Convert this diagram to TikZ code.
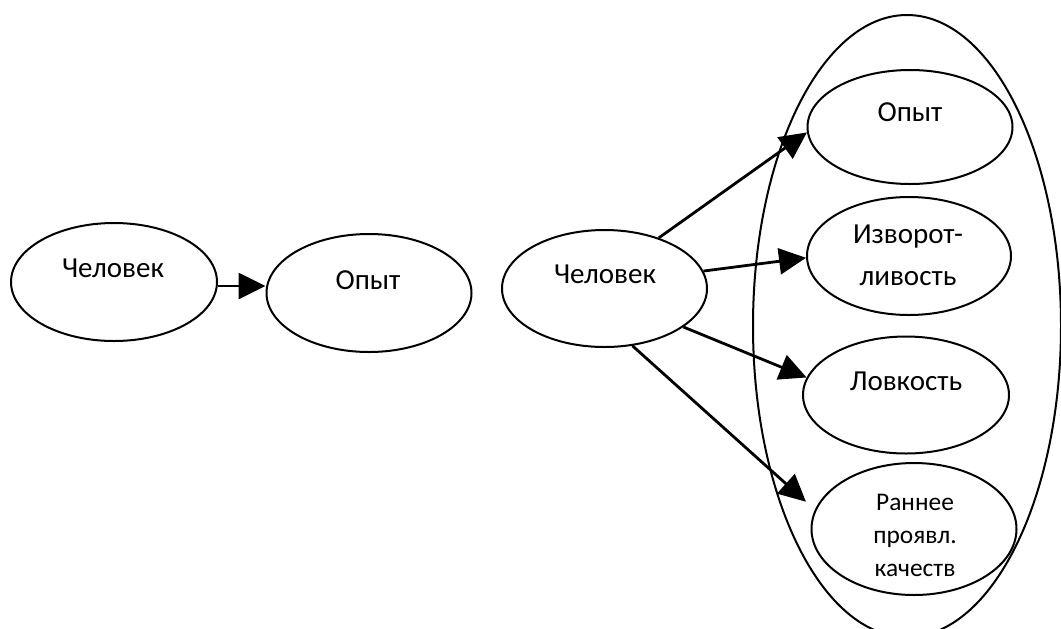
\documentclass[tikz,border=0pt]{standalone}
\usepackage{fontspec}
\setmainfont{Carlito}
\usetikzlibrary{arrows.meta,shapes.geometric}
\tikzset{
oval/.style 2 args={
  ellipse,
  draw=black,
  line width=1pt,
  inner sep=0pt,
  minimum width=#1,
  minimum height=#2
  }
}
\tikzset{
  word/.style={font=\fontsize{14.5}{21}\selectfont,inner sep=0pt,align=center},
  small/.style={font=\fontsize{12.7}{16.5}\selectfont,inner sep=0pt,align=center},
  conn/.style={line width=1.4pt,-{Triangle[length=13.5pt,width=13pt]}}
}

\begin{document}
\begin{tikzpicture}[x=0.5pt,y=-0.5pt]
\useasboundingbox (0,0) rectangle (1061,628);

% outer group
\node[oval={154pt}{311pt}] (group) at (907,326) {};

% left pair
\node[oval={103pt}{59pt}] (man1) at (114,282) {};
\node[word,anchor=base] (lman1) at (113,277) {Человек};
\node[oval={102.5pt}{59pt}] (exp1) at (369,293) {};
\node[word,anchor=base] (lexp1) at (368,289) {Опыт};

% right part
\node[oval={102.5pt}{58.5pt}] (man2) at (604.5,288.5) {};
\node[word,anchor=base] (lman2) at (605,283) {Человек};

\node[oval={102.5pt}{57pt}] (exp2) at (910,127) {};
\node[word,anchor=base] (lexp2) at (910,121) {Опыт};

\node[oval={102pt}{59pt}] (dodge) at (909,256) {};
\node[word] (ldodge) at (908,255) {Изворот-\\ливость};

\node[oval={103pt}{58.5pt}] (skill) at (906,395) {};
\node[word,anchor=base] (lskill) at (906,390) {Ловкость};

\node[oval={102.5pt}{66pt}] (early) at (914,529) {};
\node[small] (learly) at (915,535) {Раннее\\проявл.\\качеств};

\draw[conn] ([yshift=-2pt]man1.east) -- ([yshift=3.5pt]exp1.west);

\draw[conn] (man2.43) -- (exp2.183);
\draw[conn] (man2.10) -- (dodge.181);
\draw[conn] (man2.-26) -- (skill.170);
\draw[conn,shorten >=6pt] (man2.-64) -- (early.169);

\end{tikzpicture}
\end{document}
